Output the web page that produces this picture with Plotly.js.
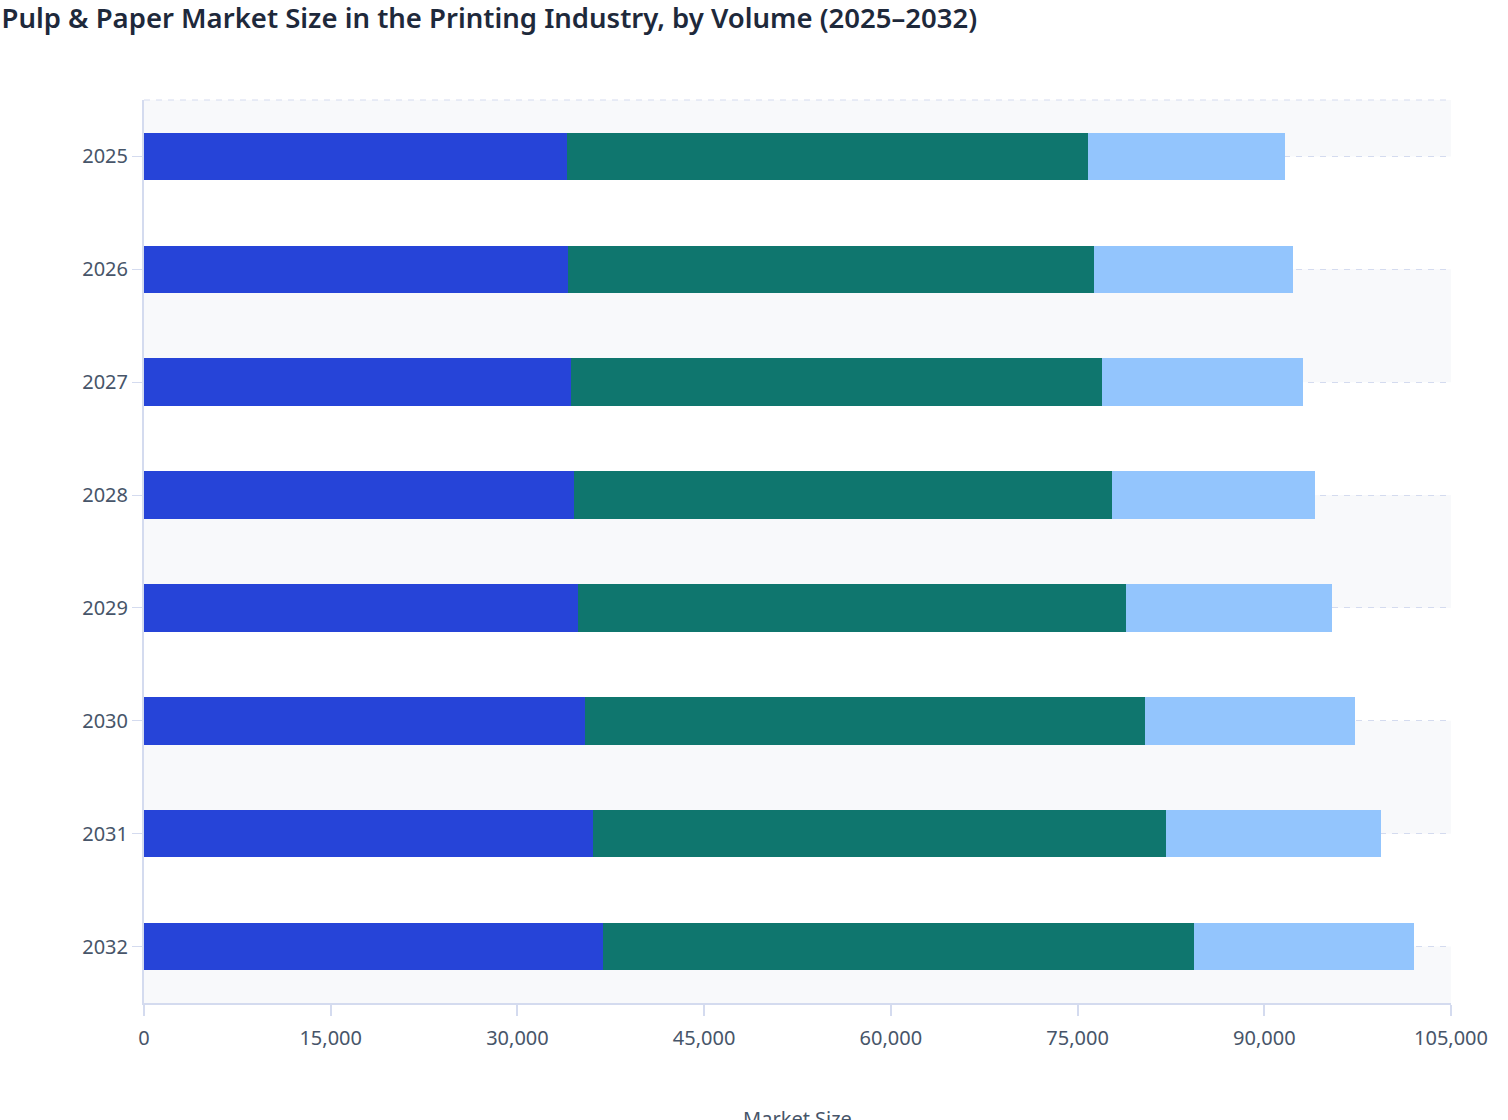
<!DOCTYPE html>
<html>
<head>
<meta charset="utf-8">
<script src="https://cdn.plot.ly/plotly-3.0.1.min.js"></script>
<style>
  html, body { margin: 0; padding: 0; overflow: hidden; background: #ffffff; }
  #myChart { width: 1508px; height: 1320px; }
</style>
</head>
<body>
<div id="myChart"></div>
<script>
// years shown top to bottom
const years = ['2025', '2026', '2027', '2028', '2029', '2030', '2031', '2032'];

// volumes per segment
const segment_a = [34000, 34100, 34300, 34550, 34900, 35450, 36070, 36900];
const segment_b = [41830, 42180, 42680, 43250, 44020, 44960, 46030, 47480];
const segment_c = [15850, 15990, 16090, 16310, 16550, 16900, 17250, 17670];

const series_names = ['Printing & Writing Paper', 'Newsprint', 'Specialty Printing Paper'];

const x_ticks = [0, 15000, 30000, 45000, 60000, 75000, 90000, 105000];

function make_chart() {
    const colors = ['#2644d8', '#0f766e', '#93c5fd'];
    const values = [segment_a, segment_b, segment_c];

    let traces = [];
    for (let i = 0; i < values.length; i++) {
        traces.push({
            type: 'bar',
            orientation: 'h',
            name: series_names[i],
            y: years,
            x: values[i],
            marker: {
                color: colors[i],
                line: { width: 0 }
            },
            hovertemplate: '%{y}: %{x:,}<extra>' + series_names[i] + '</extra>'
        });
    }

    // alternating light bands + top dashed border
    let shapes = [];
    shapes.push({
        type: 'rect', xref: 'paper', yref: 'y', x0: 0, x1: 1,
        y0: -0.5, y1: 0, fillcolor: '#f8f9fb', line: { width: 0 }, layer: 'below'
    });
    for (let i = 1; i < years.length; i += 2) {
        shapes.push({
            type: 'rect', xref: 'paper', yref: 'y', x0: 0, x1: 1,
            y0: i, y1: Math.min(i + 1, years.length - 0.5),
            fillcolor: '#f8f9fb', line: { width: 0 }, layer: 'below'
        });
    }
    shapes.push({
        type: 'line', xref: 'paper', yref: 'paper', x0: 0, x1: 1, y0: 1, y1: 1,
        line: { color: '#d4dbef', width: 1, dash: '6px,6px' }, layer: 'below'
    });

    const layout = {
        width: 1508,
        height: 1320,
        barmode: 'stack',
        bargap: 0.58,
        title: {
            text: 'Pulp &amp; Paper Market Size in the Printing Industry, by Volume (2025–2032)',
            font: { family: 'Noto Sans', size: 27.5, weight: 600, color: '#1e293b' },
            x: 0.001, xanchor: 'left',
            y: 1 - 18 / 1320, yanchor: 'middle'
        },
        font: { family: 'Noto Sans', color: '#475569' },
        paper_bgcolor: '#ffffff',
        plot_bgcolor: '#ffffff',
        margin: { l: 144, r: 57, t: 100, b: 317 },
        xaxis: {
            range: [0, 105000],
            tickvals: x_ticks,
            ticktext: x_ticks.map(v => v.toLocaleString('en-US')),
            tickfont: { size: 20, color: '#475569' },
            ticks: 'outside',
            ticklen: 11,
            tickwidth: 2,
            tickcolor: '#d4dbef',
            ticklabelstandoff: 5,
            showline: true,
            linecolor: '#d4dbef',
            linewidth: 2,
            showgrid: false,
            zeroline: false,
            title: {
                text: 'Market Size',
                font: { size: 20, color: '#475569' },
                standoff: 62
            },
            automargin: false
        },
        yaxis: {
            type: 'category',
            categoryorder: 'array',
            categoryarray: years,
            range: [years.length - 0.5, -0.5],
            tickfont: { size: 20, color: '#475569' },
            ticks: 'outside',
            ticklen: 10,
            tickwidth: 1,
            tickcolor: '#d4dbef',
            showline: true,
            linecolor: '#d4dbef',
            linewidth: 2,
            showgrid: true,
            gridcolor: '#d4dbef',
            gridwidth: 1,
            griddash: '6px,6px',
            zeroline: false,
            automargin: false
        },
        showlegend: true,
        legend: {
            orientation: 'h',
            x: 0.5, xanchor: 'center',
            y: -0.2, yanchor: 'top',
            font: { size: 16, color: '#475569' }
        },
        shapes: shapes
    };

    return [traces, layout];
}

let hi = make_chart();
Plotly.newPlot('myChart', hi[0], hi[1], { displayModeBar: false, responsive: false });
</script>
</body>
</html>
